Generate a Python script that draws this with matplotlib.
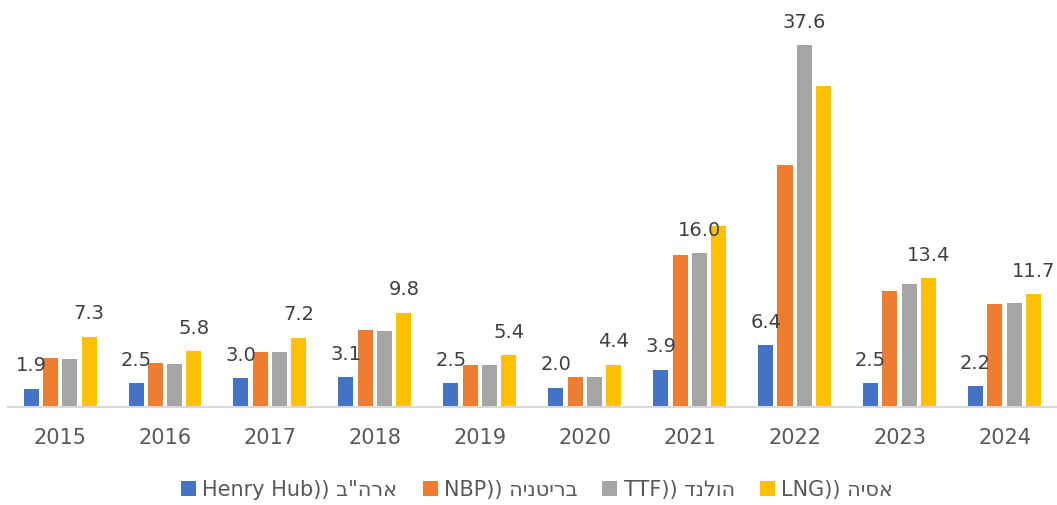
import numpy as np
import matplotlib
matplotlib.use("Agg")
import matplotlib.pyplot as plt

# gas prices by hub, $/MMBtu
years = ['2015', '2016', '2017', '2018', '2019', '2020', '2021', '2022', '2023', '2024']
henry_hub = [1.9, 2.5, 3.0, 3.1, 2.5, 2.0, 3.9, 6.4, 2.5, 2.2]
nbp = [5.1, 4.6, 5.7, 8.0, 4.4, 3.1, 15.8, 25.2, 12.1, 10.7]
ttf = [5.0, 4.5, 5.7, 7.9, 4.4, 3.1, 16.0, 37.6, 12.8, 10.8]
lng = [7.3, 5.8, 7.2, 9.8, 5.4, 4.4, 18.8, 33.4, 13.4, 11.7]

# legend texts, hebrew written in visual order (matplotlib has no bidi)
heb = ['ארה"ב', 'בריטניה', 'הולנד', 'אסיה']
latin = ['Henry Hub', 'NBP', 'TTF', 'LNG']
labels = [l + ')) ' + h[::-1] for l, h in zip(latin, heb)]

# which series carries the upper data label in each year
top_label = [3, 3, 3, 3, 3, 3, 2, 2, 3, 3]

colors = ['#4472C4', '#ED7D31', '#A5A5A5', '#FFC000']
series = [henry_hub, nbp, ttf, lng]

fig = plt.figure(figsize=(10.57, 5.05), dpi=100)
ax = fig.add_axes([0.0072, 0.194, 0.9928, 0.762])

x = np.arange(len(years))
w = 0.143
step = 0.184
handles = []
for i, (vals, c) in enumerate(zip(series, colors)):
    b = ax.bar(x + (i - 1.5) * step, vals, width=w, color=c, zorder=2)
    handles.append(b)

def put_label(xpos, val):
    ax.annotate('%.1f' % val, (xpos, val), xytext=(0, 12.5), textcoords='offset points',
                ha='center', va='baseline', fontsize=14, color='#404040')

for j in range(len(years)):
    put_label(x[j] - 1.5 * step, henry_hub[j])
    s = top_label[j]
    put_label(x[j] + (s - 1.5) * step, series[s][j])

ax.set_xlim(-0.5, len(years) - 0.5)
ax.set_ylim(0, 40)
ax.set_xticks(x)
ax.set_xticklabels(years, fontsize=15, color='#595959')
ax.tick_params(axis='x', length=0, pad=15)
ax.set_yticks([])
for sp in ['top', 'right', 'left']:
    ax.spines[sp].set_visible(False)
ax.spines['bottom'].set_color('#D9D9D9')
ax.spines['bottom'].set_linewidth(1.5)

fig.legend(handles, labels, loc='center', bbox_to_anchor=(537 / 1057, 15 / 505), ncol=4,
           frameon=False, fontsize=15, labelcolor='#595959', handlelength=0.72,
           handleheight=0.72, handletextpad=0.3, columnspacing=1.2)

fig.savefig('out.png', dpi=100)
